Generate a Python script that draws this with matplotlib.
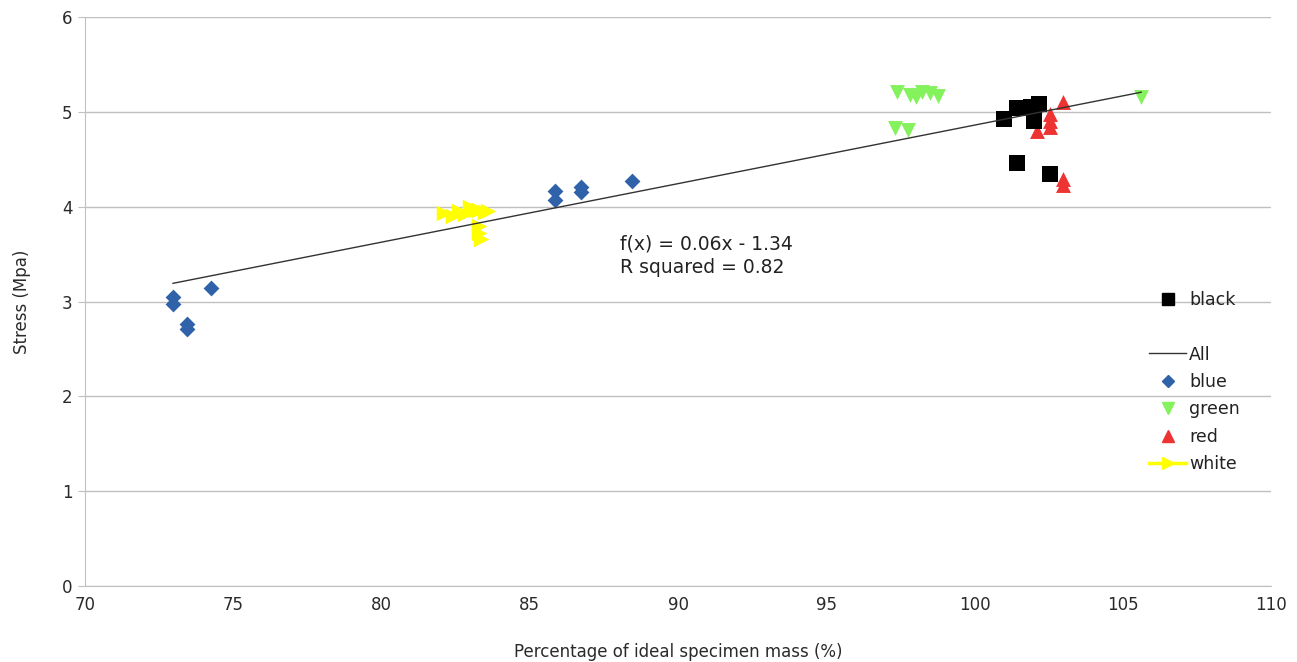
import numpy as np
import matplotlib
matplotlib.use("Agg")
import matplotlib.pyplot as plt
from matplotlib.lines import Line2D

plt.rcParams['font.family'] = ['DejaVu Sans']

# ---- data ----
blue_x = [72.97, 72.97, 73.44, 73.44, 74.25, 85.85, 85.85, 86.73, 86.73, 88.45]
blue_y = [3.05, 2.97, 2.76, 2.71, 3.14, 4.17, 4.07, 4.21, 4.16, 4.27]

green_x = [97.39, 97.82, 98.03, 98.23, 98.50, 98.77, 97.32, 97.76, 105.62]
green_y = [5.21, 5.18, 5.16, 5.21, 5.20, 5.17, 4.83, 4.81, 5.16]

red_x = [102.98, 102.55, 102.55, 102.55, 102.10, 102.98, 102.98]
red_y = [5.10, 4.98, 4.90, 4.84, 4.80, 4.29, 4.23]

black_x = [101.00, 101.43, 101.74, 101.90, 102.17, 102.00, 102.00, 101.43, 102.55]
black_y = [4.92, 5.04, 5.04, 5.05, 5.08, 4.95, 4.90, 4.46, 4.34]

white_x = [82.10, 82.40, 82.60, 82.80, 83.00, 83.20, 83.30, 83.50, 83.60, 83.30, 83.30, 83.35]
white_y = [3.93, 3.90, 3.95, 3.92, 4.00, 3.97, 3.96, 3.94, 3.95, 3.80, 3.72, 3.66]

x_ticks = [70, 75, 80, 85, 90, 95, 100, 105, 110]
y_ticks = [0, 1, 2, 3, 4, 5, 6]

eq_text = "f(x) = 0.06x - 1.34\nR squared = 0.82"

# ---- figure ----
fig = plt.figure(figsize=(12.97, 6.62), dpi=100)
ax = fig.add_axes([0.0655, 0.1148, 0.9145, 0.8595])

grid_c = '#c0c0c0'
ax.set_xlim(70, 110)
ax.set_ylim(0, 6)
ax.set_xticks(x_ticks)
ax.set_yticks(y_ticks)
ax.yaxis.grid(True, color=grid_c, lw=1)
ax.set_axisbelow(True)
for s in ['top', 'right']:
    ax.spines[s].set_visible(False)
ax.spines['left'].set_color(grid_c)
ax.spines['bottom'].set_color(grid_c)
ax.tick_params(axis='both', colors=grid_c, labelcolor='#2a2a2a', labelsize=12, length=5)
ax.tick_params(axis='x', length=0, pad=7.5)
ax.tick_params(axis='y', pad=4)

# trend line for all points
all_x = np.array(blue_x + green_x + red_x + black_x + white_x)
all_y = np.array(blue_y + green_y + red_y + black_y + white_y)
slope, intercept = np.polyfit(all_x, all_y, 1)
lx = np.array([all_x.min(), all_x.max()])
ax.plot(lx, slope * lx + intercept, color='#333333', lw=1, zorder=4)

ax.scatter(blue_x, blue_y, marker='D', s=65, color='#2f62a8', zorder=3, linewidths=0)
ax.scatter(green_x, green_y, marker='v', s=115, color='#84f25c', zorder=3, linewidths=0)
ax.scatter(red_x, red_y, marker='^', s=115, color='#ee3333', zorder=3, linewidths=0)
ax.scatter(black_x, black_y, marker='s', s=135, color='#000000', zorder=3, linewidths=0)
ax.scatter(white_x, white_y, marker='>', s=125, color='#ffff00', zorder=3, linewidths=0)

ax.text(88.04, 3.48, eq_text, fontsize=13.5, color='#222222',
        va='center', ha='left', linespacing=1.32)

ax.set_xlabel("Percentage of ideal specimen mass (%)", fontsize=12, color='#2a2a2a', labelpad=20.5)
ax.set_ylabel("Stress (Mpa)", fontsize=12, color='#2a2a2a', labelpad=22)

handles = [
    Line2D([], [], marker='s', color='#000000', ls='none', markersize=9),
    Line2D([], [], ls='none', marker=None),
    Line2D([], [], color='#333333', lw=1),
    Line2D([], [], marker='D', color='#2f62a8', ls='none', markersize=6),
    Line2D([], [], marker='v', color='#84f25c', ls='none', markersize=9),
    Line2D([], [], marker='^', color='#ee3333', ls='none', markersize=9),
    Line2D([], [], marker='>', color='#ffff00', lw=2.5, markersize=8),
]
labels = ['black', '', 'All', 'blue', 'green', 'red', 'white']
leg = ax.legend(handles, labels, loc='upper left', bbox_to_anchor=(0.8915, 0.531),
                frameon=False, fontsize=12.5, handlelength=2.1, handletextpad=0.2,
                labelspacing=0.54, borderaxespad=0)
for t in leg.get_texts():
    t.set_color('#222222')

fig.savefig("out.png", dpi=100)
